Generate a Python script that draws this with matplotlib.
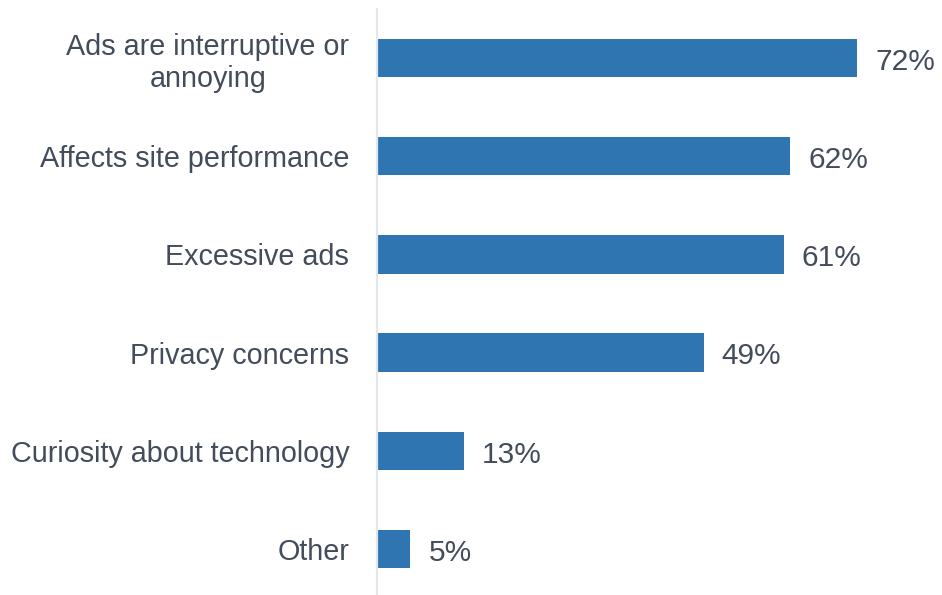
import matplotlib.pyplot as plt

# reasons given for using an ad blocker (share of respondents, %)
reasons = ["Ads are interruptive or\nannoying",
           "Affects site performance",
           "Excessive ads",
           "Privacy concerns",
           "Curiosity about technology",
           "Other"]
shares = [72, 62, 61, 49, 13, 5]

barColour = "#2e75b2"
textColour = "#434c5a"

plt.rcParams['font.family'] = ['Liberation Sans', 'DejaVu Sans']

fig = plt.figure(figsize=(9.42, 5.95), dpi=100)
ax = fig.add_axes([377 / 942, 0.0, 1 - 377 / 942, 1 - 9 / 595])

positions = list(range(len(reasons)))
ax.barh(positions, shares, height=0.39, color=barColour)

for pos, val in zip(positions, shares):
    ax.text(val + 2.7, pos + 0.04, "%d%%" % val, va='center', ha='left',
            fontsize=21.5, color=textColour)

ax.set_yticks(positions)
ax.set_yticklabels(reasons, fontsize=20.7, color=textColour,
                   multialignment='center', linespacing=1.18)
ax.tick_params(axis='y', length=0, pad=20)
ax.set_xticks([])

ax.set_xlim(0, (942 - 377) / 6.667)
ax.set_ylim(5.47, -0.5)

for side in ['top', 'right', 'bottom']:
    ax.spines[side].set_visible(False)
ax.spines['left'].set_color("#e3e6ea")
ax.spines['left'].set_linewidth(1.6)

plt.savefig("out.png", dpi=100)
plt.close()
